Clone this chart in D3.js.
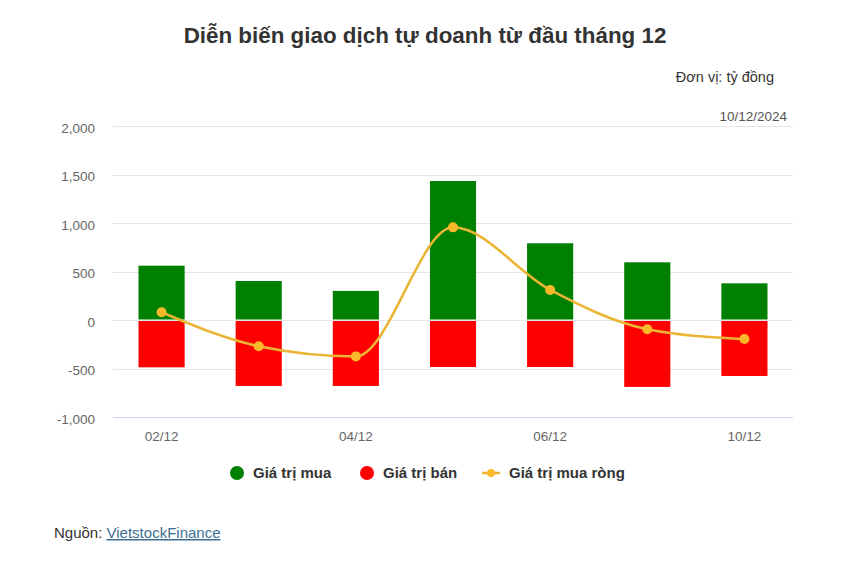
<!DOCTYPE html>
<html>
<head>
<meta charset="utf-8">
<script src="https://cdn.jsdelivr.net/npm/d3@7"></script>
<style>
  html, body { margin: 0; padding: 0; background: #fff; }
  svg { display: block; font-family: "Liberation Sans", Arial, sans-serif; }
</style>
</head>
<body>
<svg id="chart" width="843" height="562"></svg>
<script>
const categories = ["02/12", "03/12", "04/12", "05/12", "06/12", "09/12", "10/12"];
const shownLabels = ["02/12", "04/12", "06/12", "10/12"];
const buyValues = [560, 402, 300, 1433, 791, 595, 378];
const sellValues = [-488, -680, -680, -485, -485, -690, -577];
const netValues = [80, -270, -375, 955, 310, -95, -195];
const yTicks = [-1000, -500, 0, 500, 1000, 1500, 2000];
const seriesNames = ["Giá trị mua", "Giá trị bán", "Giá trị mua ròng"];

(function () {
const svg = d3.select("#chart");
const W = 843, H = 562;
svg.append("rect").attr("width", W).attr("height", H).attr("fill", "#fff");

const pLeft = 113, pRight = 793, pTop = 126, pBottom = 417;
const x = d3.scaleBand().domain(categories).range([pLeft, pRight]).padding(0);
const y = d3.scaleLinear().domain([-1000, 2000]).range([pBottom, pTop]);
const bw = x.bandwidth() * 0.475;

// Title
svg.append("text").attr("x", 425).attr("y", 43).attr("text-anchor", "middle")
  .attr("font-size", 22.4).attr("font-weight", "bold").attr("fill", "#333")
  .text("Diễn biến giao dịch tự doanh từ đầu tháng 12");

svg.append("text").attr("x", 774).attr("y", 82).attr("text-anchor", "end")
  .attr("font-size", 14.5).attr("fill", "#333").text("Đơn vị: tỷ đồng");
svg.append("text").attr("x", 787).attr("y", 121).attr("text-anchor", "end")
  .attr("font-size", 13.5).attr("fill", "#555").text("10/12/2024");

// Gridlines
svg.append("g").selectAll("line").data(yTicks).join("line")
  .attr("x1", pLeft).attr("x2", pRight)
  .attr("y1", d => Math.round(y(d)) + 0.5).attr("y2", d => Math.round(y(d)) + 0.5)
  .attr("stroke", d => d === -1000 ? "#ccd6eb" : "#e6e6e6").attr("stroke-width", 1);

// Y axis labels
const fmt = d3.format(",");
const yAxis = d3.axisLeft(y).tickValues(yTicks).tickSize(0).tickPadding(0)
  .tickFormat(d => fmt(d).replace("\u2212", "-"));
const gy = svg.append("g").attr("transform", `translate(${95},2)`).call(yAxis);
gy.select(".domain").remove();
gy.selectAll("text").attr("font-size", 13.5).attr("fill", "#666")
  .attr("font-family", "Liberation Sans, Arial, sans-serif");

// X axis labels
const xAxis = d3.axisBottom(x).tickSize(0).tickPadding(0)
  .tickFormat(d => shownLabels.includes(d) ? d : "");
const gx = svg.append("g").attr("transform", `translate(0,${431})`).call(xAxis);
gx.select(".domain").remove();
gx.selectAll("text").attr("font-size", 13.5).attr("fill", "#666")
  .attr("font-family", "Liberation Sans, Arial, sans-serif");

// Bars
svg.append("g").selectAll("rect").data(categories).join("rect")
  .attr("x", (d) => x(d) + (x.bandwidth() - bw) / 2)
  .attr("width", bw)
  .attr("y", (d, i) => y(buyValues[i]))
  .attr("height", (d, i) => y(0) - y(buyValues[i]) - 0.5)
  .attr("fill", "#008000");
svg.append("g").selectAll("rect").data(categories).join("rect")
  .attr("x", (d) => x(d) + (x.bandwidth() - bw) / 2)
  .attr("width", bw)
  .attr("y", y(0) + 1)
  .attr("height", (d, i) => y(sellValues[i]) - y(0) - 1)
  .attr("fill", "#ff0000");

// Net line
const cx = d => x(d) + x.bandwidth() / 2;
const line = d3.line().x((d, i) => cx(categories[i])).y(d => y(d)).curve(d3.curveMonotoneX);
svg.append("path").datum(netValues).attr("d", line)
  .attr("fill", "none").attr("stroke", "#eab532").attr("stroke-width", 2.5);
svg.append("g").selectAll("circle").data(netValues).join("circle")
  .attr("cx", (d, i) => cx(categories[i])).attr("cy", d => y(d)).attr("r", 5)
  .attr("fill", "#fbb829");

// Legend
const ly = 473;
const lg = svg.append("g");
lg.append("circle").attr("cx", 237).attr("cy", ly).attr("r", 7).attr("fill", "#008000");
lg.append("text").attr("x", 253).attr("y", ly + 5).text(seriesNames[0]);
lg.append("circle").attr("cx", 367).attr("cy", ly).attr("r", 7).attr("fill", "#ff0000");
lg.append("text").attr("x", 383).attr("y", ly + 5).text(seriesNames[1]);
lg.append("line").attr("x1", 482).attr("x2", 500).attr("y1", ly).attr("y2", ly)
  .attr("stroke", "#eab532").attr("stroke-width", 2.5);
lg.append("circle").attr("cx", 491).attr("cy", ly).attr("r", 4).attr("fill", "#fbb829");
lg.append("text").attr("x", 509).attr("y", ly + 5).text(seriesNames[2]);
lg.selectAll("text").attr("font-size", 15).attr("font-weight", "bold").attr("fill", "#333");

// Source
const src = svg.append("text").attr("x", 54).attr("y", 538).attr("font-size", 15).attr("fill", "#333");
src.append("tspan").text("Nguồn: ");
src.append("tspan").attr("fill", "#3d6f94").attr("text-decoration", "underline").text("VietstockFinance");
})();
</script>
</body>
</html>
